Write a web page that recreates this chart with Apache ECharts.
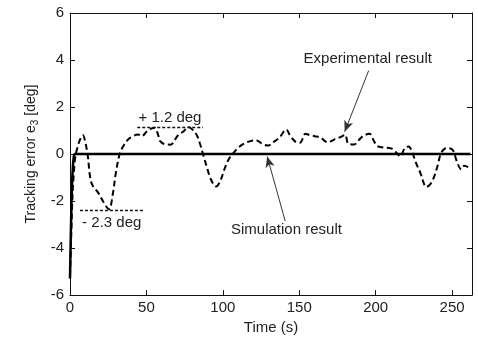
<!DOCTYPE html>
<html>
<head>
<meta charset="utf-8">
<script src="https://cdn.jsdelivr.net/npm/echarts@6/dist/echarts.min.js"></script>
<style>html,body{margin:0;padding:0;background:#fff}#c{width:478px;height:340px}</style>
</head>
<body>
<div id="c"></div>
<script>
// Experimental result (dashed)
const expTime = [0,0.8,1.5,2.5,3.5,5,6.5,8.5,10,11.5,13,14.5,18.5,22,25.5,28,30,32.5,35,38,41,44.5,47,50,53,55.5,57.5,59,62,66,68.5,71,74,77.5,80,83,85,87,89.5,92,95.5,98,101,104,107,110,114,118,122,126,129.5,133,137,141.5,144,146,148,150.5,154,157,160,164,168.5,171,174,177,180,182,186,189,192,196,198.5,201,205,210,213,216,219,221.5,224,226.5,229.5,231.5,233,235.5,238,240.5,242.5,245,247.5,250.5,253,256,258,260.5];
const expError = [-5.2,-3.5,-2,-0.8,-0.1,0.3,0.6,0.8,0.5,0,-0.9,-1.3,-1.65,-2.05,-2.35,-1.7,-0.8,0,0.35,0.62,0.75,0.83,0.76,0.95,1.08,1.12,0.85,0.55,0.42,0.4,0.6,0.82,0.95,1.15,1.05,0.8,0.45,0,-0.55,-1.05,-1.38,-1.2,-0.65,-0.2,0.05,0.27,0.45,0.55,0.58,0.42,0.36,0.5,0.7,1.04,0.78,0.62,0.5,0.48,0.86,0.8,0.76,0.7,0.5,0.55,0.66,0.72,0.82,0.45,0.41,0.6,0.78,0.86,0.6,0.34,0.28,0.24,0.1,-0.1,0.25,0.32,0.05,-0.4,-0.85,-1.25,-1.4,-1.3,-1.0,-0.5,0,0.22,0.25,0.16,-0.3,-0.65,-0.5,-0.56];
// Simulation result (solid)
const simTime = [0,0.5,1,1.5,2,2.5,3,262];
const simError = [-5.3,-3.5,-2,-1,-0.4,-0.1,0,0];
// Axis ticks
const xTicks = [0,50,100,150,200,250];
const yTicks = [-6,-4,-2,0,2,4,6];
// Annotation values
const peakBound = 1.15, troughBound = -2.38;
const peakLabel = '+ 1.2 deg', troughLabel = '- 2.3 deg';
const expLabel = 'Experimental result', simLabel = 'Simulation result';

const expData = expTime.map((t,i)=>[t,expError[i]]);
const simData = simTime.map((t,i)=>[t,simError[i]]);

const font = 'Liberation Sans, Arial, sans-serif';
const txt = '#222';
const axisCommon = {
  axisLine:{show:true,onZero:false,lineStyle:{color:'#111',width:1}},
  axisTick:{show:true,inside:true,length:5,lineStyle:{color:'#111'}},
  splitLine:{show:false}
};
const xMin = xTicks[0], xMax = 263, yMin = yTicks[0], yMax = yTicks[yTicks.length-1];

const chart = echarts.init(document.getElementById('c'));
chart.setOption({
  animation:false,
  grid:{left:70,right:6,top:13,bottom:40},
  xAxis:[
    Object.assign({type:'value',min:xMin,max:xMax,interval:50,position:'bottom',
      name:'Time (s)',nameLocation:'middle',nameGap:22,
      nameTextStyle:{fontFamily:font,fontSize:15,color:txt},
      axisLabel:{fontFamily:font,fontSize:15,color:txt,margin:5,
        formatter:v=>xTicks.indexOf(v)>=0?String(v):''}},axisCommon),
    Object.assign({type:'value',min:xMin,max:xMax,interval:50,position:'top',
      axisLabel:{show:false}},axisCommon)
  ],
  yAxis:[
    Object.assign({type:'value',min:yMin,max:yMax,interval:2,position:'left',
      name:'Tracking error e{s|3} [deg]',nameLocation:'middle',nameGap:30,
      nameTextStyle:{fontFamily:font,fontSize:14,color:txt,lineHeight:18,
        rich:{s:{fontFamily:font,fontSize:10,color:txt,lineHeight:10,verticalAlign:'bottom'}}},
      axisLabel:{fontFamily:font,fontSize:15,color:txt,margin:6}},axisCommon),
    Object.assign({type:'value',min:yMin,max:yMax,interval:2,position:'right',
      axisLabel:{show:false}},axisCommon)
  ],
  series:[
    {
      type:'line',name:'sim',data:simData,showSymbol:false,symbol:'none',
      lineStyle:{color:'#000',width:2.5},z:3
    },
    {
      type:'line',name:'exp',data:expData,showSymbol:false,symbol:'none',smooth:0.35,
      lineStyle:{color:'#000',width:2,type:[6,3.5]},z:4,
      markLine:{
        silent:true,animation:false,
        label:{show:false},
        data:[
          [{coord:[44,peakBound],symbol:'none',lineStyle:{color:'#111',width:1.3,type:[3,2]}},{coord:[87,peakBound],symbol:'none'}],
          [{coord:[6.5,troughBound],symbol:'none',lineStyle:{color:'#111',width:1.3,type:[3,2]}},{coord:[49,troughBound],symbol:'none'}],
          [{coord:[195.4,3.55],symbol:'none',lineStyle:{color:'#333',width:1,type:'solid'}},{coord:[179.7,0.95],symbol:'arrow',symbolSize:[7,11]}],
          [{coord:[140.8,-2.85],symbol:'none',lineStyle:{color:'#333',width:1,type:'solid'}},{coord:[129,-0.1],symbol:'arrow',symbolSize:[7,11]}]
        ]
      },
      markPoint:{
        silent:true,symbol:'circle',symbolSize:0,
        label:{show:true,position:'inside',fontFamily:font,fontSize:15,color:txt},
        data:[
          {coord:[194.8,4.04],label:{formatter:expLabel}},
          {coord:[141.6,-3.21],label:{formatter:simLabel}},
          {coord:[65.4,1.56],label:{formatter:peakLabel}},
          {coord:[27.3,-2.91],label:{formatter:troughLabel}}
        ]
      }
    }
  ]
});
</script>
</body>
</html>
